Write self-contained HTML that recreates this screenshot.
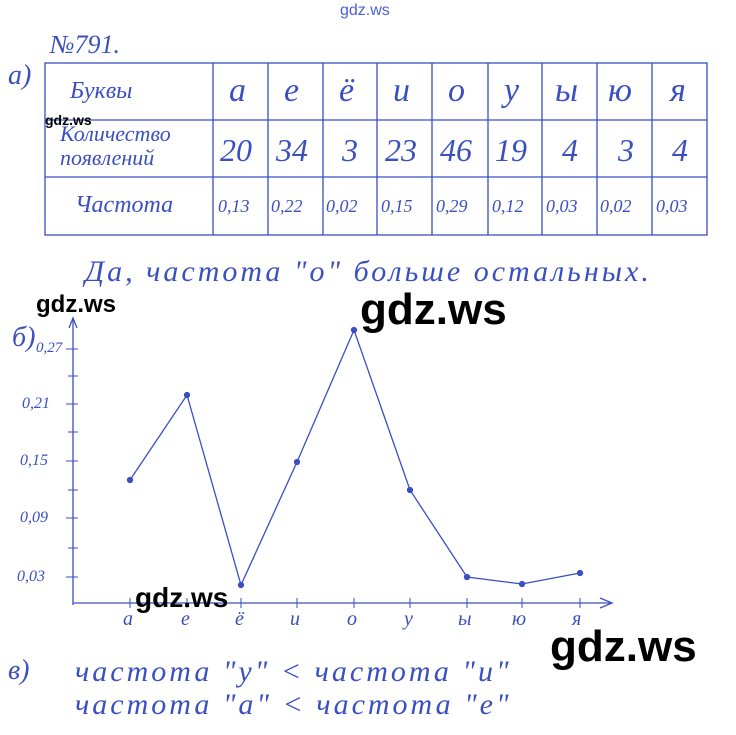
<!DOCTYPE html>
<html><head><meta charset="utf-8"><style>
body{margin:0;background:#fff;width:736px;height:735px;overflow:hidden;position:relative;font-family:"Liberation Sans",sans-serif}
.h{position:absolute;color:#3a4fc0;font-family:"Liberation Serif",serif;font-style:italic;white-space:nowrap}
.w{position:absolute;color:#000;font-family:"Liberation Sans",sans-serif;font-weight:bold;white-space:nowrap}
</style></head><body>
<svg width="736" height="735" style="position:absolute;left:0;top:0" stroke="#3a4fc0" fill="none" stroke-width="1.3">
<rect x="45" y="63" width="662" height="172"/>
<line x1="45" y1="120" x2="707" y2="120"/><line x1="45" y1="177" x2="707" y2="177"/>
<line x1="213" y1="63" x2="213" y2="235"/><line x1="268" y1="63" x2="268" y2="235"/>
<line x1="323" y1="63" x2="323" y2="235"/><line x1="377" y1="63" x2="377" y2="235"/>
<line x1="432" y1="63" x2="432" y2="235"/><line x1="488" y1="63" x2="488" y2="235"/>
<line x1="542" y1="63" x2="542" y2="235"/><line x1="597" y1="63" x2="597" y2="235"/>
<line x1="652" y1="63" x2="652" y2="235"/>
<line x1="73" y1="318" x2="73" y2="605"/><polyline points="69,328 73,318 77,328"/>
<line x1="73" y1="603" x2="610" y2="603"/><polyline points="600,598 612,603 600,608"/>
<g stroke-width="1"><line x1="66" y1="349" x2="78" y2="349"/><line x1="68" y1="376" x2="78" y2="376"/><line x1="66" y1="404" x2="78" y2="404"/><line x1="68" y1="432" x2="78" y2="432"/><line x1="66" y1="461" x2="78" y2="461"/><line x1="68" y1="490" x2="78" y2="490"/><line x1="66" y1="518" x2="78" y2="518"/><line x1="68" y1="548" x2="78" y2="548"/><line x1="66" y1="577" x2="78" y2="577"/>
<line x1="130" y1="598" x2="130" y2="608"/><line x1="187" y1="598" x2="187" y2="608"/><line x1="241" y1="598" x2="241" y2="608"/><line x1="297" y1="598" x2="297" y2="608"/><line x1="354" y1="598" x2="354" y2="608"/><line x1="410" y1="598" x2="410" y2="608"/><line x1="467" y1="598" x2="467" y2="608"/><line x1="522" y1="598" x2="522" y2="608"/><line x1="580" y1="598" x2="580" y2="608"/></g>
<polyline points="130,480 187,395 241,585 297,462 354,330 410,490 467,577 522,584 580,573"/>
<g fill="#3a4fc0"><circle cx="130" cy="480" r="2.5"/><circle cx="187" cy="395" r="2.5"/><circle cx="241" cy="585" r="2.5"/><circle cx="297" cy="462" r="2.5"/><circle cx="354" cy="330" r="2.5"/><circle cx="410" cy="490" r="2.5"/><circle cx="467" cy="577" r="2.5"/><circle cx="522" cy="584" r="2.5"/><circle cx="580" cy="573" r="2.5"/></g>
</svg>
<div class="h" style="left:50px;top:30px;font-size:26px">№791.</div>
<div class="h" style="left:8px;top:60px;font-size:28px">а)</div>
<div class="h" style="left:70px;top:78px;font-size:24px">Буквы</div>
<div class="h" style="left:60px;top:122px;font-size:22px;line-height:24px">Количество<br>появлений</div>
<div class="h" style="left:75px;top:192px;font-size:24px">Частота</div>
<div class="h" style="left:229px;top:72px;font-size:34px">а</div><div class="h" style="left:284px;top:72px;font-size:34px">е</div><div class="h" style="left:339px;top:72px;font-size:34px">ё</div><div class="h" style="left:393px;top:72px;font-size:34px">и</div><div class="h" style="left:448px;top:72px;font-size:34px">о</div><div class="h" style="left:504px;top:72px;font-size:34px">у</div><div class="h" style="left:555px;top:72px;font-size:34px">ы</div><div class="h" style="left:608px;top:72px;font-size:34px">ю</div><div class="h" style="left:670px;top:72px;font-size:34px">я</div>
<div class="h" style="left:220px;top:132px;font-size:32px">20</div><div class="h" style="left:276px;top:132px;font-size:32px">34</div><div class="h" style="left:342px;top:132px;font-size:32px">3</div><div class="h" style="left:385px;top:132px;font-size:32px">23</div><div class="h" style="left:440px;top:132px;font-size:32px">46</div><div class="h" style="left:495px;top:132px;font-size:32px">19</div><div class="h" style="left:562px;top:132px;font-size:32px">4</div><div class="h" style="left:618px;top:132px;font-size:32px">3</div><div class="h" style="left:672px;top:132px;font-size:32px">4</div>
<div class="h" style="left:218px;top:196px;font-size:18px">0,13</div><div class="h" style="left:271px;top:196px;font-size:18px">0,22</div><div class="h" style="left:326px;top:196px;font-size:18px">0,02</div><div class="h" style="left:381px;top:196px;font-size:18px">0,15</div><div class="h" style="left:436px;top:196px;font-size:18px">0,29</div><div class="h" style="left:492px;top:196px;font-size:18px">0,12</div><div class="h" style="left:546px;top:196px;font-size:18px">0,03</div><div class="h" style="left:600px;top:196px;font-size:18px">0,02</div><div class="h" style="left:656px;top:196px;font-size:18px">0,03</div>
<div class="h" style="left:85px;top:255px;font-size:30px;letter-spacing:3px">Да, частота "о" больше остальных.</div>
<div class="h" style="left:12px;top:322px;font-size:28px">б)</div>
<div class="h" style="left:36px;top:340px;font-size:15px">0,27</div><div class="h" style="left:22px;top:395px;font-size:16px">0,21</div><div class="h" style="left:20px;top:452px;font-size:16px">0,15</div><div class="h" style="left:20px;top:509px;font-size:16px">0,09</div><div class="h" style="left:17px;top:568px;font-size:16px">0,03</div>
<div class="h" style="left:123px;top:608px;font-size:20px">а</div><div class="h" style="left:181px;top:608px;font-size:20px">е</div><div class="h" style="left:235px;top:608px;font-size:20px">ё</div><div class="h" style="left:290px;top:608px;font-size:20px">и</div><div class="h" style="left:347px;top:608px;font-size:20px">о</div><div class="h" style="left:404px;top:608px;font-size:20px">у</div><div class="h" style="left:458px;top:608px;font-size:20px">ы</div><div class="h" style="left:512px;top:608px;font-size:20px">ю</div><div class="h" style="left:572px;top:608px;font-size:20px">я</div>
<div class="h" style="left:8px;top:655px;font-size:28px">в)</div>
<div class="h" style="left:75px;top:655px;font-size:30px;letter-spacing:3px">частота "у" &lt; частота "и"</div>
<div class="h" style="left:75px;top:688px;font-size:30px;letter-spacing:3px">частота "а" &lt; частота "е"</div>
<div class="w" style="left:340px;top:2px;font-size:16px;color:#4a5fd0;font-weight:normal">gdz.ws</div>
<div class="w" style="left:45px;top:112px;font-size:14px">gdz.ws</div>
<div class="w" style="left:36px;top:291px;font-size:24px">gdz.ws</div>
<div class="w" style="left:360px;top:285px;font-size:44px">gdz.ws</div>
<div class="w" style="left:135px;top:582px;font-size:28px">gdz.ws</div>
<div class="w" style="left:550px;top:622px;font-size:44px">gdz.ws</div>
</body></html>
